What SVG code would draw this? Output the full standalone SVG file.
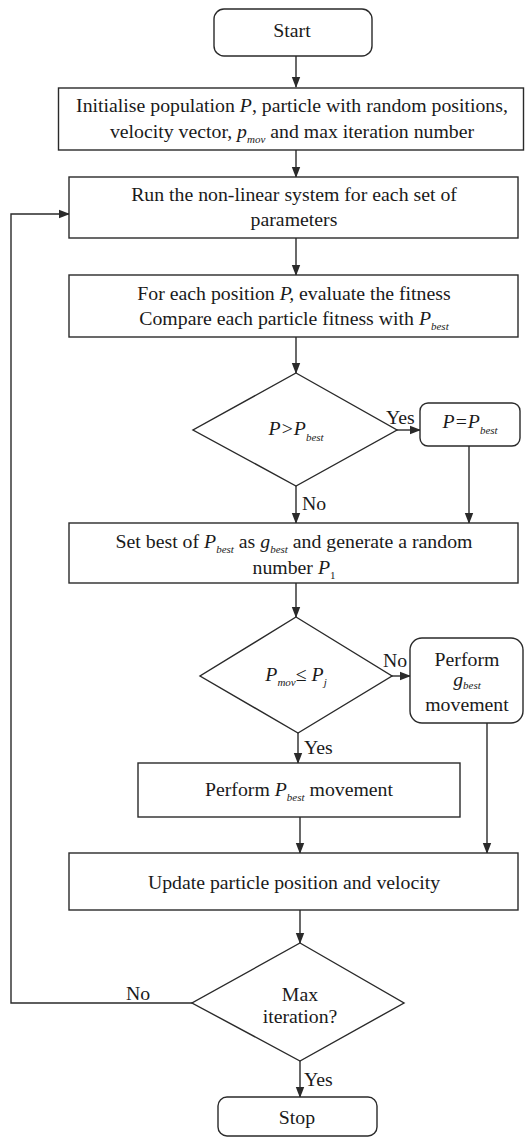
<svg xmlns="http://www.w3.org/2000/svg" width="526" height="1137" viewBox="0 0 526 1137" font-family="'Liberation Serif', 'DejaVu Serif', serif">
<style>
.b{fill:#fff;stroke:#2a2a2a;stroke-width:1.4}
.c{fill:none;stroke:#2a2a2a;stroke-width:1.4}
text{font-family:'Liberation Serif','DejaVu Serif',serif;font-size:19.8px;fill:#1a1a1a}
.m{text-anchor:middle}
.i{font-style:italic}
.s{font-size:11px;font-style:italic}
</style>
<defs>
<marker id="ar" markerWidth="11" markerHeight="10" refX="10" refY="5" orient="auto" markerUnits="userSpaceOnUse">
<path d="M0,0.8 L11,5 L0,9.2 Z" fill="#2a2a2a"/>
</marker>
</defs>
<rect width="526" height="1137" fill="#fff"/>
<g id="connectors">
<line class="c" x1="296" y1="56" x2="296" y2="87" marker-end="url(#ar)"/>
<line class="c" x1="296" y1="150" x2="296" y2="177" marker-end="url(#ar)"/>
<line class="c" x1="296" y1="238" x2="296" y2="275" marker-end="url(#ar)"/>
<line class="c" x1="296" y1="337" x2="296" y2="373" marker-end="url(#ar)"/>
<line class="c" x1="397" y1="430" x2="420" y2="430" marker-end="url(#ar)"/>
<line class="c" x1="296" y1="486" x2="296" y2="523" marker-end="url(#ar)"/>
<line class="c" x1="469" y1="446" x2="469" y2="523" marker-end="url(#ar)"/>
<line class="c" x1="296" y1="583" x2="296" y2="617" marker-end="url(#ar)"/>
<line class="c" x1="392" y1="676" x2="410" y2="676" marker-end="url(#ar)"/>
<line class="c" x1="298" y1="733" x2="298" y2="763" marker-end="url(#ar)"/>
<line class="c" x1="487" y1="723" x2="487" y2="853" marker-end="url(#ar)"/>
<line class="c" x1="300" y1="817" x2="300" y2="853" marker-end="url(#ar)"/>
<line class="c" x1="300" y1="910" x2="300" y2="943" marker-end="url(#ar)"/>
<line class="c" x1="300" y1="1061" x2="300" y2="1097" marker-end="url(#ar)"/>
<polyline class="c" points="192,1003 11,1003 11,214 69,214" marker-end="url(#ar)"/>
<text x="386" y="424">Yes</text>
<text x="302" y="510">No</text>
<text x="383" y="667">No</text>
<text x="304" y="754">Yes</text>
<text x="126" y="1000">No</text>
<text x="304" y="1086">Yes</text>
</g>
<g id="start">
<rect class="b" x="214" y="9" width="158" height="47" rx="10"/>
<text class="m" x="292" y="37">Start</text>
</g>
<g id="init">
<rect class="b" x="58.5" y="88" width="465" height="62"/>
<text class="m" x="292" y="112">Initialise population <tspan class="i">P</tspan>, particle with random positions,</text>
<text class="m" x="292" y="138">velocity vector, <tspan class="i">p</tspan><tspan class="s" dy="5">mov</tspan><tspan dy="-5"> and max iteration number</tspan></text>
</g>
<g id="run">
<rect class="b" x="69" y="177" width="449" height="61"/>
<text class="m" x="294" y="201">Run the non-linear system for each set of</text>
<text class="m" x="294" y="226">parameters</text>
</g>
<g id="evaluate">
<rect class="b" x="69" y="275" width="449" height="62"/>
<text class="m" x="294" y="300">For each position <tspan class="i">P,</tspan> evaluate the fitness</text>
<text class="m" x="294" y="325">Compare each particle fitness with <tspan class="i">P</tspan><tspan class="s" dy="5">best</tspan></text>
</g>
<g id="dec1">
<polygon class="b" points="296,373 397,430 296,486 193,430"/>
<text class="m i" x="296" y="435">P&gt;P<tspan class="s" dy="6">best</tspan></text>
</g>
<g id="pbest-assign">
<rect class="b" x="420" y="403" width="100" height="43" rx="8"/>
<text class="m i" x="470" y="428">P=P<tspan class="s" dy="6">best</tspan></text>
</g>
<g id="setbest">
<rect class="b" x="69" y="523" width="449" height="60"/>
<text class="m" x="294" y="548">Set best of <tspan class="i">P</tspan><tspan class="s" dy="5">best</tspan><tspan dy="-5"> as </tspan><tspan class="i">g</tspan><tspan class="s" dy="5">best</tspan><tspan dy="-5"> and generate a random</tspan></text>
<text class="m" x="294" y="574">number <tspan class="i">P</tspan><tspan font-size="11" dy="5">1</tspan></text>
</g>
<g id="dec2">
<polygon class="b" points="296,617 392,676 298,733 200,676"/>
<text class="m i" x="296" y="681">P<tspan class="s" dy="5">mov</tspan><tspan dy="-5" font-style="normal">≤ </tspan><tspan>P</tspan><tspan class="s" dy="5">j</tspan></text>
</g>
<g id="gbest-move">
<rect class="b" x="410" y="638" width="113" height="85" rx="12"/>
<text class="m" x="467" y="666">Perform</text>
<text class="m i" x="467" y="686">g<tspan class="s" dy="3">best</tspan></text>
<text class="m" x="467" y="711">movement</text>
</g>
<g id="pbest-move">
<rect class="b" x="138" y="763" width="322" height="54"/>
<text class="m" x="299" y="796">Perform <tspan class="i">P</tspan><tspan class="s" dy="5">best</tspan><tspan dy="-5"> movement</tspan></text>
</g>
<g id="update">
<rect class="b" x="69" y="853" width="449" height="57"/>
<text class="m" x="294" y="889">Update particle position and velocity</text>
</g>
<g id="dec3">
<polygon class="b" points="300,943 404,1003 300,1061 192,1003"/>
<text class="m" x="300" y="1001">Max</text>
<text class="m" x="300" y="1023">iteration?</text>
</g>
<g id="stop">
<rect class="b" x="218" y="1097" width="159" height="39" rx="9"/>
<text class="m" x="297" y="1124">Stop</text>
</g>
</svg>
